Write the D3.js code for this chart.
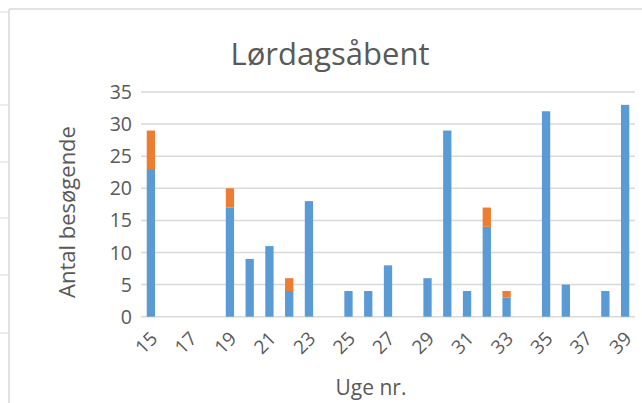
<!DOCTYPE html>
<html>
<head>
<meta charset="utf-8">
<script src="https://cdn.jsdelivr.net/npm/d3@7"></script>
<style>
  body { margin: 0; background: #fff; }
  text { font-family: "Open Sans", "Noto Sans", sans-serif; fill: #595959; }
</style>
</head>
<body>
<svg width="642" height="403"></svg>
<script>
const weeks = d3.range(15, 40)
const tickWeeks = [15,17,19,21,23,25,27,29,31,33,35,37,39]
const yTicks = [0,5,10,15,20,25,30,35]
// blue series / orange series per week (15..39)
const blueValues = [23,0,0,0,17,9,11,4,18,0,4,4,8,0,6,29,4,14,3,0,32,5,0,4,33]
const orangeValues = [6,0,0,0,3,0,0,2,0,0,0,0,0,0,0,0,0,3,1,0,0,0,0,0,0]
const seriesColors = ['#5B9BD5', '#ED7D31']

const svg = d3.select('svg')

// frame of the chart box (cropped screenshot)
svg.append('line').attr('x1', 9).attr('x2', 642).attr('y1', 9).attr('y2', 9)
  .attr('stroke', '#d9d9d9').attr('stroke-width', 1.5)
svg.append('line').attr('x1', 9).attr('x2', 9).attr('y1', 9).attr('y2', 403)
  .attr('stroke', '#d9d9d9').attr('stroke-width', 1.5)
const cellLines = [12, 105, 162, 218, 275, 333]
svg.selectAll('line.cell').data(cellLines).enter().append('line')
  .attr('class', 'cell')
  .attr('x1', 0).attr('x2', 8)
  .attr('y1', d => d).attr('y2', d => d)
  .attr('stroke', '#d9d9d9').attr('stroke-width', 1)

const x = d3.scaleBand().domain(weeks).range([141, 635]).paddingInner(0.58).paddingOuter(0.29)
const y = d3.scaleLinear().domain([0, 35]).range([316.7, 92])

// gridlines
svg.append('g').selectAll('line').data(yTicks).enter().append('line')
  .attr('x1', 141).attr('x2', 635)
  .attr('y1', d => y(d)).attr('y2', d => y(d))
  .attr('stroke', '#d9d9d9').attr('stroke-width', 1.5)

// y labels
svg.append('g').selectAll('text').data(yTicks).enter().append('text')
  .attr('x', 132).attr('y', d => y(d))
  .attr('dy', '0.36em')
  .attr('text-anchor', 'end')
  .style('font-size', '19.5px')
  .text(d => d)

// stacked bars
const table = weeks.map((w, i) => ({ week: w, blue: blueValues[i], orange: orangeValues[i] }))
const stack = d3.stack().keys(['blue', 'orange'])(table)

svg.append('g').selectAll('g').data(stack).enter().append('g')
  .attr('fill', (d, i) => seriesColors[i])
  .selectAll('rect').data(d => d).enter().append('rect')
  .attr('x', d => x(d.data.week))
  .attr('width', x.bandwidth())
  .attr('y', d => y(d[1]))
  .attr('height', d => y(d[0]) - y(d[1]))

// x labels, rotated
svg.append('g').selectAll('text').data(tickWeeks).enter().append('text')
  .attr('transform', d => {
    const cx = x(d) + x.bandwidth() / 2
    return `translate(${cx + 3},${335}) rotate(-45)`
  })
  .attr('text-anchor', 'end')
  .attr('dy', '0.36em')
  .style('font-size', '19px')
  .text(d => d)

// titles
svg.append('text').attr('x', 330).attr('y', 65)
  .attr('text-anchor', 'middle')
  .style('font-size', '31px')
  .text('Lørdagsåbent')

svg.append('text').attr('x', 371).attr('y', 395)
  .attr('text-anchor', 'middle')
  .style('font-size', '21px')
  .text('Uge nr.')

svg.append('text')
  .attr('transform', 'translate(75,212) rotate(-90)')
  .attr('text-anchor', 'middle')
  .style('font-size', '22px')
  .text('Antal besøgende')
</script>
</body>
</html>
